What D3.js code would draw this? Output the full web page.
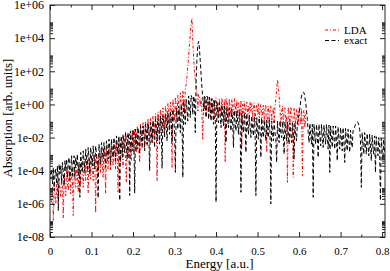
<!DOCTYPE html>
<html>
<head>
<meta charset="utf-8">
<script src="https://cdn.jsdelivr.net/npm/d3@7/dist/d3.min.js"></script>
<style>
  body { margin: 0; background: #fff; }
  text { font-family: "Liberation Serif", "DejaVu Serif", serif; fill: #000; }
</style>
</head>
<body>
<div id="chart"></div>
<script>
// 1: DATA (log10 of absorption, sampled every 0.002 a.u. starting at 0)
const energyStep = 0.002;

const ldaLog10 = [
  -5.3, -5.7, -5.9, -5.0, -7.0, -4.9, -5.5, -6.0, -4.8, -5.4,
  -5.8, -4.5, -5.1, -5.6, -4.4, -5.0, -6.85, -4.2, -4.8, -5.5,
  -4.0, -4.7, -5.2, -4.0, -4.6, -5.4, -3.9, -4.5, -6.7, -3.9,
  -4.5, -5.0, -3.8, -4.3, -5.3, -3.7, -4.3, -4.8, -3.5, -4.1,
  -5.0, -3.4, -4.0, -4.6, -3.3, -3.9, -5.35, -3.2, -3.8, -4.5,
  -3.1, -3.7, -4.6, -3.0, -3.6, -6.55, -3.0, -3.5, -4.3, -2.9,
  -3.4, -4.1, -2.8, -3.4, -4.4, -2.7, -3.3, -5.35, -2.7, -3.2,
  -3.9, -2.6, -3.1, -4.0, -2.5, -3.0, -3.7, -2.4, -2.9, -3.9,
  -2.2, -2.8, -5.3, -2.1, -2.7, -3.5, -2.0, -2.6, -3.8, -1.9,
  -2.5, -3.3, -4.7, -1.8, -2.4, -3.2, -1.7, -2.2, -3.4, -1.6,
  -2.1, -3.0, -1.45, -2.0, -2.9, -1.35, -1.9, -2.7, -3.5, -1.2,
  -1.7, -2.6, -1.1, -1.6, -2.4, -1.0, -1.5, -2.5, -0.9, -1.4,
  -2.2, -0.8, -1.3, -2.3, -0.7, -1.2, -1.9, -0.55, -1.1, -4.6,
  -0.45, -0.9, -1.8, -0.3, -0.8, -1.6, -0.2, -0.7, -1.7, -0.1,
  -0.5, -1.4, 0.05, -0.4, -1.3, 0.15, -0.3, -3.8, 0.3, -0.2,
  -1.0, 0.45, -0.1, -0.9, 0.55, 0.0, -0.8, 0.7, 0.1, -0.6,
  0.85, 0.3, -0.5, 1.0, 1.2, 1.7, 2.3, 2.9, 3.6, 4.2,
  4.9, 5.2, 3.8, 2.8, 2.0, 1.5, 1.1, 0.8, -0.4, 0.6,
  0.55, -0.1, 0.35, -0.6, -2.15, 0.2, -0.3, 0.5, -0.7, 0.1,
  0.45, -0.4, 0.2, -0.8, 0.4, 0.0, -0.5, 0.3, -0.9, 0.15,
  0.4, -0.3, 0.1, -0.7, 0.35, -0.2, -0.6, 0.4, -0.1, -0.8,
  0.3, -3.5, 0.4, -0.4, 0.1, -0.8, 0.35, -0.2, -0.6, 0.3,
  -0.1, -0.8, 0.35, 0.0, -0.6, 0.25, -0.9, 0.1, -0.3, -0.7,
  0.25, -2.6, 0.0, -0.5, 0.2, -0.9, -0.2, 0.15, -0.6, -0.1,
  -1.0, 0.15, -0.4, 0.05, -0.8, -0.2, 0.1, -1.1, -0.3, 0.0,
  -0.6, 0.05, -1.0, -0.2, 0.0, -1.2, -0.4, -0.05, -0.9, -0.3,
  0.0, -2.9, -0.5, -0.1, -1.1, -0.3, -0.05, -1.0, -0.6, -0.2,
  -1.1, -0.1, 0.3, 0.9, 1.5, 1.1, 0.5, -0.3, -1.2, -0.5,
  -0.1, -1.2, -0.4, -0.2, -1.1, -0.7, -4.7, -0.15, -0.6, -1.2,
  -0.15, -0.5, -1.3, -4.4, -0.2, -0.8, -1.2, -0.3, -0.6, -1.3,
  -0.2, -0.7, -1.2, -0.25, -4.3, -0.5, -0.35, -1.4, -0.6
];

const exactLog10 = [
  -4.0, -4.5, -3.9, -4.8, -3.8, -5.2, -4.2, -3.9, -4.8, -3.7,
  -6.4, -3.6, -4.2, -3.7, -4.7, -3.5, -4.1, -4.9, -3.4, -4.0,
  -3.3, -4.4, -3.5, -3.2, -4.6, -3.9, -3.1, -4.3, -3.6, -3.1,
  -4.4, -3.2, -3.7, -3.0, -4.3, -3.5, -5.6, -2.9, -3.6, -4.0,
  -2.8, -3.4, -4.1, -2.7, -3.3, -3.9, -2.6, -3.2, -4.2, -2.6,
  -3.2, -3.7, -2.5, -3.1, -3.9, -2.5, -3.0, -3.5, -5.65, -2.4,
  -2.9, -3.6, -2.3, -2.8, -3.3, -2.3, -2.9, -3.8, -2.2, -2.7,
  -3.3, -2.1, -2.6, -3.6, -2.1, -2.7, -3.2, -2.0, -2.5, -3.4,
  -1.9, -2.5, -3.0, -1.9, -5.8, -2.3, -1.9, -3.2, -1.8, -2.4,
  -2.9, -1.7, -2.3, -3.3, -1.7, -2.2, -5.5, -1.6, -2.2, -2.8,
  -1.5, -2.1, -5.35, -1.5, -2.0, -2.7, -1.4, -1.9, -3.0, -1.3,
  -1.9, -2.5, -1.3, -1.8, -2.8, -1.2, -1.8, -2.4, -1.1, -1.7,
  -4.0, -1.1, -1.6, -2.3, -1.0, -1.6, -2.6, -0.9, -1.5, -2.2,
  -0.8, -1.4, -2.4, -0.7, -1.3, -3.85, -0.7, -1.2, -2.0, -0.6,
  -1.1, -2.2, -0.5, -1.0, -1.8, -0.4, -1.0, -2.3, -0.3, -0.9,
  -1.6, -4.1, -0.2, -0.8, -1.5, -0.1, -0.7, -1.7, 0.0, -0.6,
  -4.4, 0.2, -0.4, -1.2, 0.3, -0.3, -1.0, 0.5, -0.1, -0.8,
  0.55, 0.4, -0.6, 0.5, 0.3, -1.7, 1.5, 2.7, 3.6, 3.8,
  3.4, 2.6, 1.8, 1.0, 0.4, -0.4, 0.5, -0.2, -0.8, 0.5,
  0.4, -0.9, 0.45, -0.3, -1.0, 0.35, -0.4, -1.2, 0.25, -0.5,
  -5.9, 0.15, -0.5, -1.1, 0.1, -0.6, -1.4, 0.0, -0.7, -1.3,
  -0.1, -0.8, -2.3, -0.2, -0.9, -1.4, -0.2, -1.0, -1.6, -0.3,
  -1.0, -2.6, -0.35, -1.1, -1.6, -0.4, -1.1, -1.8, -0.45, -1.2,
  -5.3, -0.5, -1.2, -1.7, -0.5, -1.3, -2.9, -0.55, -1.3, -1.8,
  -0.65, -1.4, -2.0, -0.7, -1.4, -1.9, -0.7, -1.5, -5.5, -0.8,
  -1.5, -2.1, -0.8, -1.6, -3.2, -0.85, -1.6, -2.0, -0.9, -1.7,
  -2.2, -0.95, -1.7, -2.0, -0.95, -1.7, -6.0, -1.0, -1.7, -2.2,
  -1.0, -1.7, -2.1, -3.5, -1.0, -1.8, -2.3, -1.0, -1.7, -2.0,
  -1.05, -1.8, -3.0, -1.05, -1.8, -2.2, -1.05, -1.8, -2.4, -1.1,
  -1.8, -2.3, -1.1, -1.8, -3.3, -1.1, -1.8, -2.2, -1.1, -0.9,
  -0.6, -0.2, 0.2, 0.5, 0.7, 0.75, 0.7, 0.4, 0.1, -0.4,
  -0.9, -1.7, -2.3, -1.15, -1.8, -2.4, -1.2, -5.6, -1.2, -1.9,
  -2.4, -1.2, -1.9, -3.2, -1.2, -1.9, -2.5, -1.2, -1.9, -2.6,
  -1.25, -1.9, -2.4, -1.2, -1.9, -2.7, -1.25, -4.1, -1.3, -2.0,
  -2.6, -1.3, -2.0, -2.7, -1.3, -2.1, -3.4, -1.35, -2.1, -2.7,
  -1.4, -2.1, -2.8, -1.4, -2.2, -3.5, -1.45, -2.2, -2.8, -1.5,
  -2.2, -2.9, -1.55, -2.3, -2.6, -1.6, -1.5, -1.35, -1.2, -1.1,
  -1.05, -1.1, -1.25, -1.5, -2.2, -5.0, -1.7, -2.4, -3.0, -1.7,
  -2.4, -3.0, -1.75, -2.5, -3.1, -1.8, -2.5, -3.4, -1.85, -2.6,
  -3.0, -1.9, -4.1, -1.95, -2.6, -3.1, -2.0, -2.7, -5.8, -2.05,
  -2.7, -3.3, -2.1, -2.8, -3.2
];

const xTicks = [0, 0.1, 0.2, 0.3, 0.4, 0.5, 0.6, 0.7, 0.8];
const xMinorTicks = [0.05, 0.15, 0.25, 0.35, 0.45, 0.55, 0.65, 0.75];
const yTicks = [1e-8, 1e-6, 1e-4, 1e-2, 1e0, 1e2, 1e4, 1e6];
const yTickLabels = ["1e-08", "1e-06", "1e-04", "1e-02", "1e+00", "1e+02", "1e+04", "1e+06"];
const seriesNames = ["LDA", "exact"];

// 2: LAYOUT
const W = 390, H = 271;
const plot = { left: 50, right: 385, top: 5, bottom: 237 };

const svg = d3.select("#chart").append("svg")
    .attr("width", W)
    .attr("height", H);

// 3: SCALES
const x = d3.scaleLinear().domain([0, 0.807]).range([plot.left, plot.right]);
const y = d3.scaleLog().domain([1e-8, 1e6]).range([plot.bottom, plot.top]);

const toPoints = arr => arr.map((v, i) => ({ e: i * energyStep, a: Math.pow(10, v) }));
const line = d3.line().x(d => x(d.e)).y(d => y(d.a));

svg.append("clipPath").attr("id", "clip")
  .append("rect")
    .attr("x", plot.left).attr("y", plot.top)
    .attr("width", plot.right - plot.left)
    .attr("height", plot.bottom - plot.top);

// 4: LINES
const g = svg.append("g").attr("clip-path", "url(#clip)");
g.append("path")
    .attr("d", line(toPoints(ldaLog10)))
    .attr("fill", "none")
    .attr("stroke", "#ff0000")
    .attr("stroke-width", 1)
    .attr("stroke-dasharray", "3,2,1,2");
g.append("path")
    .attr("d", line(toPoints(exactLog10)))
    .attr("fill", "none")
    .attr("stroke", "#000")
    .attr("stroke-width", 1)
    .attr("stroke-dasharray", "4,2.5");

// 5: AXES (ticks inward, mirrored)
const axisColor = "#222";
function styleAxis(sel) {
  sel.select(".domain").remove();
  sel.selectAll("line").attr("stroke", axisColor);
}

svg.append("g")
    .attr("transform", `translate(0,${plot.bottom})`)
    .call(d3.axisBottom(x).tickValues(xTicks).tickSizeInner(-5).tickSizeOuter(0)
      .tickPadding(10).tickFormat(d => d === 0 ? "0" : d3.format(".1f")(d)))
    .call(styleAxis)
    .selectAll("text").attr("font-size", 11);
svg.append("g")
    .attr("transform", `translate(0,${plot.bottom})`)
    .call(d3.axisBottom(x).tickValues(xMinorTicks).tickSizeInner(-2.5).tickSizeOuter(0).tickFormat(""))
    .call(styleAxis);
svg.append("g")
    .attr("transform", `translate(0,${plot.top})`)
    .call(d3.axisTop(x).tickValues(xTicks).tickSizeInner(-5).tickSizeOuter(0).tickFormat(""))
    .call(styleAxis);
svg.append("g")
    .attr("transform", `translate(0,${plot.top})`)
    .call(d3.axisTop(x).tickValues(xMinorTicks).tickSizeInner(-2.5).tickSizeOuter(0).tickFormat(""))
    .call(styleAxis);

// y minor ticks at 2..9 x each labelled decade
const yMinor = [];
yTicks.slice(0, -1).forEach(t => d3.range(2, 10).forEach(k => yMinor.push(t * k)));

svg.append("g")
    .attr("transform", `translate(${plot.left},0)`)
    .call(d3.axisLeft(y).tickValues(yTicks).tickSizeInner(-5).tickSizeOuter(0)
      .tickPadding(6).tickFormat((d, i) => yTickLabels[i]))
    .call(styleAxis)
    .selectAll("text").attr("font-size", 12);
svg.append("g")
    .attr("transform", `translate(${plot.left},0)`)
    .call(d3.axisLeft(y).tickValues(yMinor).tickSizeInner(-3).tickSizeOuter(0).tickFormat(""))
    .call(styleAxis);
svg.append("g")
    .attr("transform", `translate(${plot.right},0)`)
    .call(d3.axisRight(y).tickValues(yTicks).tickSizeInner(-5).tickSizeOuter(0).tickFormat(""))
    .call(styleAxis);
svg.append("g")
    .attr("transform", `translate(${plot.right},0)`)
    .call(d3.axisRight(y).tickValues(yMinor).tickSizeInner(-3).tickSizeOuter(0).tickFormat(""))
    .call(styleAxis);

// frame
svg.append("rect")
    .attr("x", plot.left).attr("y", plot.top)
    .attr("width", plot.right - plot.left)
    .attr("height", plot.bottom - plot.top)
    .attr("fill", "none")
    .attr("stroke", axisColor)
    .attr("stroke-width", 1);

// 6: LABELS
svg.append("text")
    .attr("x", (plot.left + plot.right) / 2 + 2)
    .attr("y", 268)
    .attr("text-anchor", "middle")
    .attr("font-size", 13)
    .text("Energy [a.u.]");

svg.append("text")
    .attr("transform", "rotate(-90)")
    .attr("x", -118)
    .attr("y", 12)
    .attr("text-anchor", "middle")
    .attr("font-size", 13)
    .text("Absorption [arb. units]");

// 7: LEGEND
const legendStyles = [
  { color: "#ff0000", dash: "3,2,1,2" },
  { color: "#000", dash: "4,2.5" }
];
const legend = svg.selectAll(".legend")
    .data(seriesNames)
    .enter()
    .append("g")
    .attr("class", "legend")
    .attr("transform", (d, i) => `translate(325, ${30 + i * 10.5})`);

legend.append("line")
    .attr("x1", 0).attr("x2", 14)
    .attr("stroke", (d, i) => legendStyles[i].color)
    .attr("stroke-dasharray", (d, i) => legendStyles[i].dash)
    .attr("stroke-width", 1);

legend.append("text")
    .attr("x", 19)
    .attr("y", 3.5)
    .attr("font-size", 11)
    .text(d => d);
</script>
</body>
</html>
